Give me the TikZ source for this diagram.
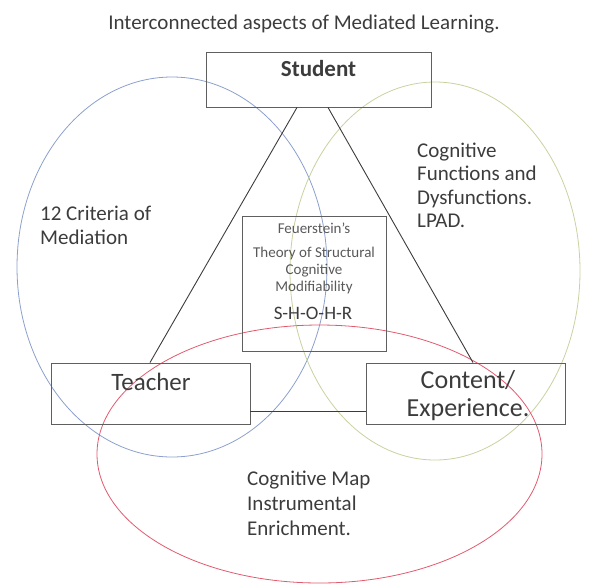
\documentclass[tikz,border=0pt]{standalone}
\usepackage{fontspec}
\setmainfont{Carlito}
\usepackage{tikz}
\usetikzlibrary{calc}
\usetikzlibrary{positioning}

\definecolor{ink}{RGB}{60,60,60}
\definecolor{boxgray}{RGB}{95,95,95}
\definecolor{ringblue}{RGB}{140,160,205}
\definecolor{ringgreen}{RGB}{200,210,160}
\definecolor{ringred}{RGB}{225,90,110}

\begin{document}
\begin{tikzpicture}[x=1pt, y=-1pt,
        box/.style={rectangle, draw=boxgray, line width=0.9pt, inner sep=0pt},
        txt/.style={text=ink, inner sep=0pt, align=left},
        edge/.style={draw=ink, line width=0.9pt},
        ring/.style={line width=0.8pt}]
        \useasboundingbox (0, 0) rectangle (596, 587);
        \node[txt, font=\fontsize{21}{25}\selectfont] (title) at (304, 24) {Interconnected aspects of Mediated Learning.};

        \draw[ring, draw=ringblue] (172, 267) ellipse [x radius=155pt, y radius=190pt];
        \draw[ring, draw=ringgreen] (435, 271) ellipse [x radius=145pt, y radius=189pt];
        \draw[ring, draw=ringred] (319.5, 454) ellipse [x radius=222.5pt, y radius=129pt];

        \node[box, minimum width=225pt, minimum height=55pt] (student) at (318.5, 79.5) {};
        \node[box, minimum width=199pt, minimum height=61pt] (teacher) at (150.5, 393.5) {};
        \node[box, minimum width=199pt, minimum height=61pt] (content) at (465.5, 393.5) {};
        \node[box, minimum width=144pt, minimum height=135pt] (theory) at (314, 283.5) {};

        \node[txt, font=\bfseries\fontsize{23}{27}\selectfont] (studentlbl) at (318.5, 69) {Student};
        \node[txt, font=\fontsize{25}{28}\selectfont] (teacherlbl) at (151, 382) {Teacher};
        \node[txt, align=center, font=\fontsize{26}{28}\selectfont] (contentlbl) at (468, 396) {Content/\\Experience.};
        \node[txt, text=ink!85, font=\fontsize{15}{17}\selectfont] (feuerstein) at (314, 228) {Feuerstein's};
        \node[txt, text=ink!85, align=center, font=\fontsize{15}{17}\selectfont] (theorylbl) at (314, 270) {Theory of Structural\\Cognitive\\Modifiability};
        \node[txt, font=\fontsize{19}{22}\selectfont] (shohr) at (313, 313) {S-H-O-H-R};

        \node[txt, anchor=west, font=\fontsize{21}{24}\selectfont] (criteria) at (40, 225) {12 Criteria of\\Mediation};
        \node[txt, anchor=west, font=\fontsize{21}{23.5}\selectfont] (functions) at (417, 185.5) {Cognitive\\Functions and\\Dysfunctions.\\LPAD.};
        \node[txt, anchor=west, font=\fontsize{21}{25}\selectfont] (cogmap) at (247, 503) {Cognitive Map\\Instrumental\\Enrichment.};

        \draw[edge] ([xshift=-21.5pt]student.south) -- ([xshift=-0.5pt]teacher.north);
        \draw[edge] ([xshift=9.5pt]student.south) -- ([xshift=7.5pt]content.north);
        \draw[edge] ([yshift=-17.5pt]teacher.east) -- ([yshift=-17.5pt]content.west);
    \end{tikzpicture}
\end{document}
